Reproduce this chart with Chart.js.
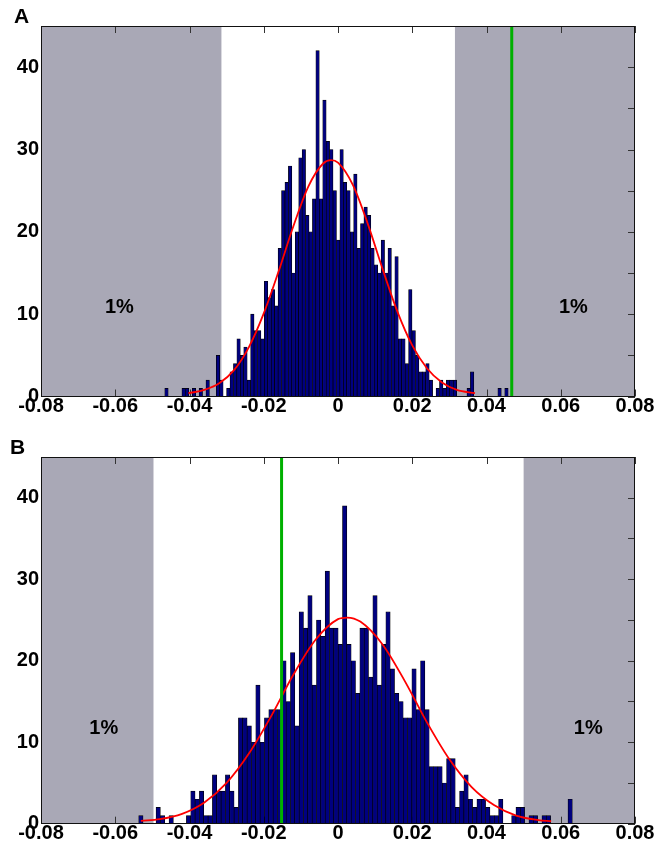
<!DOCTYPE html>
<html>
<head>
<meta charset="utf-8">
<script src="https://cdn.jsdelivr.net/npm/chart.js@4.4.1/dist/chart.umd.min.js"></script>
<style>
  body { margin: 0; background: #fff; }
  #wrap { position: relative; width: 661px; height: 844px; }
  .panel { position: absolute; left: 0; width: 661px; }
  #boxA { top: 0; height: 420px; }
  #boxB { top: 420px; height: 424px; }
  .tag { position: absolute; font: bold 21px "Liberation Sans", Arial, sans-serif; color: #000; }
</style>
</head>
<body>
<div id="wrap">
  <div class="panel" id="boxA"><canvas id="chartA"></canvas></div>
  <div class="panel" id="boxB"><canvas id="chartB"></canvas></div>
  <div class="tag" style="left:14px; top:4px;">A</div>
  <div class="tag" style="left:10px; top:435px;">B</div>
</div>
<script>
// axis ticks
const xTicks = [-0.08, -0.06, -0.04, -0.02, 0, 0.02, 0.04, 0.06, 0.08];
const yTicks = [0, 5, 10, 15, 20, 25, 30, 35, 40];
const yLabelled = [0, 10, 20, 30, 40];

// panel A histogram (100 bins)
const binStartA = -0.0462;
const binWidthA = 0.000925;
const countsA = [
  1, 0, 0, 0, 0, 1, 1, 0, 1, 0,
  1, 0, 2, 0, 0, 5, 2, 0, 1, 3,
  4, 7, 5, 6, 2, 10, 8, 8, 7, 14,
  12, 13, 11, 18, 25, 26, 28, 15, 20, 29,
  30, 22, 20, 24, 42, 24, 36, 31, 30, 25,
  19, 30, 26, 25, 20, 27, 18, 21, 23, 22,
  18, 16, 15, 19, 15, 18, 11, 17, 7, 7,
  4, 13, 8, 5, 3, 3, 4, 2, 0, 1,
  2, 1, 2, 2, 2, 0, 0, 0, 1, 3,
  0, 0, 0, 0, 0, 0, 0, 1, 0, 1
];
const fitXA = [-0.0403, -0.036, -0.032, -0.028, -0.024, -0.020, -0.016, -0.012, -0.008, -0.004, -0.0019,
  0.000, 0.004, 0.008, 0.012, 0.016, 0.020, 0.024, 0.028, 0.032, 0.0369];
const fitYA = [0.4, 0.8, 1.6, 3.2, 6.0, 10.1, 15.2, 20.7, 25.5, 28.3, 28.7,
  28.4, 25.7, 21.0, 15.5, 10.3, 6.2, 3.4, 1.7, 0.8, 0.4];
const shadeA = [[-0.08, -0.0314], [0.0315, 0.08]];
const markerA = 0.0468;

// panel B histogram (100 bins)
const binStartB = -0.0531;
const binWidthB = 0.001168;
const countsB = [
  1, 0, 0, 0, 2, 1, 0, 1, 0, 0,
  0, 1, 4, 3, 4, 1, 1, 6, 4, 4,
  6, 4, 2, 13, 13, 12, 10, 17, 10, 13,
  14, 14, 14, 20, 15, 21, 12, 26, 24, 28,
  17, 25, 23, 31, 24, 24, 22, 39, 22, 20,
  16, 24, 24, 18, 28, 17, 22, 26, 19, 16,
  15, 13, 13, 19, 14, 20, 14, 7, 7, 7,
  5, 8, 8, 2, 4, 6, 3, 2, 3, 3,
  2, 1, 1, 3, 0, 0, 1, 2, 2, 0,
  1, 1, 0, 1, 1, 0, 0, 0, 0, 3
];
const fitXB = [-0.0531, -0.048, -0.042, -0.036, -0.030, -0.024, -0.018, -0.012, -0.006, 0.000, 0.0025,
  0.006, 0.012, 0.018, 0.024, 0.030, 0.036, 0.042, 0.048, 0.054, 0.0574];
const fitYB = [0.35, 0.55, 1.2, 2.6, 5.0, 8.6, 13.2, 18.3, 22.6, 25.1, 25.3,
  24.8, 22.0, 17.5, 12.4, 7.9, 4.5, 2.3, 1.0, 0.45, 0.3];
const shadeB = [[-0.08, -0.0497], [0.0500, 0.08]];
const markerB = -0.0152;

const FONT = '"Liberation Sans", Arial, Helvetica, sans-serif';

const decor = {
  id: 'decor',
  beforeDatasetsDraw(chart, args, opts) {
    const { ctx, chartArea: a, scales: { x, y } } = chart;
    ctx.save();
    ctx.fillStyle = '#a9a8b6';
    opts.shade.forEach(([lo, hi]) => {
      const x0 = x.getPixelForValue(lo);
      const x1 = x.getPixelForValue(hi);
      ctx.fillRect(x0, a.top, x1 - x0, a.bottom - a.top);
    });
    // inward tick marks, matlab style
    ctx.strokeStyle = '#333';
    ctx.lineWidth = 1;
    ctx.beginPath();
    x.ticks.forEach(t => {
      const px = Math.round(x.getPixelForValue(t.value)) + 0.5;
      ctx.moveTo(px, a.top); ctx.lineTo(px, a.top + 7);
      ctx.moveTo(px, a.bottom); ctx.lineTo(px, a.bottom - 7);
    });
    y.ticks.forEach(t => {
      const py = Math.round(y.getPixelForValue(t.value)) + 0.5;
      ctx.moveTo(a.right, py); ctx.lineTo(a.right - 7, py);
    });
    ctx.stroke();
    ctx.fillStyle = '#000';
    ctx.font = 'bold 20px ' + FONT;
    ctx.textAlign = 'center';
    ctx.textBaseline = 'middle';
    opts.labels.forEach(([vx, vy]) => {
      ctx.fillText('1%', x.getPixelForValue(vx), y.getPixelForValue(vy));
    });
    ctx.restore();
  },
  afterDatasetsDraw(chart) {
    const { ctx, chartArea: a } = chart;
    ctx.save();
    ctx.strokeStyle = '#111';
    ctx.lineWidth = 1;
    ctx.strokeRect(Math.round(a.left) + 0.5, Math.round(a.top) + 0.5,
      Math.round(a.right - a.left) - 1, Math.round(a.bottom - a.top) - 1);
    ctx.restore();
  }
};

function makeChart(id, start, width, counts, fitX, fitY, shade, marker, pctLabels, padTop, xAxisH) {
  const bars = counts.map((c, i) => ({ x: start + i * width, y: c }));
  const fit = fitX.map((v, i) => ({ x: v, y: fitY[i] }));
  const ctx = document.getElementById(id).getContext('2d');
  return new Chart(ctx, {
    type: 'bar',
    data: {
      datasets: [
        {
          type: 'line',
          data: [{ x: marker, y: 0 }, { x: marker, y: 45 }],
          borderColor: '#00b000',
          borderWidth: 3,
          pointRadius: 0,
          order: 1
        },
        {
          type: 'line',
          data: fit,
          borderColor: '#ff0000',
          borderWidth: 1.8,
          pointRadius: 0,
          cubicInterpolationMode: 'monotone',
          order: 2
        },
        {
          type: 'bar',
          data: bars,
          backgroundColor: '#000080',
          borderColor: '#000000',
          borderWidth: 0.7,
          barPercentage: 1,
          categoryPercentage: 1,
          order: 3
        }
      ]
    },
    options: {
      responsive: true,
      maintainAspectRatio: false,
      animation: false,
      layout: { padding: { top: padTop, right: 26, bottom: 0, left: 0 } },
      plugins: {
        legend: { display: false },
        tooltip: { enabled: false },
        decor: { shade: shade, labels: pctLabels }
      },
      scales: {
        x: {
          type: 'linear',
          min: -0.08,
          max: 0.08,
          offset: false,
          grid: { display: false, drawTicks: false },
          border: { display: false },
          afterBuildTicks: axis => { axis.ticks = xTicks.map(v => ({ value: v })); },
          afterFit: axis => { axis.height = xAxisH; },
          ticks: {
            autoSkip: false,
            maxRotation: 0,
            padding: 0,
            color: '#000',
            font: { family: FONT, size: 20, weight: 'bold', lineHeight: 1 },
            callback: v => String(Math.round(v * 100) / 100)
          }
        },
        y: {
          min: 0,
          max: 45,
          grid: { display: false, drawTicks: false },
          border: { display: false },
          afterBuildTicks: axis => { axis.ticks = yTicks.map(v => ({ value: v })); },
          afterFit: axis => { axis.width = 41; },
          ticks: {
            padding: 2,
            color: '#000',
            font: { family: FONT, size: 20, weight: 'bold' },
            callback: v => (yLabelled.includes(v) ? String(v) : '')
          }
        }
      }
    },
    plugins: [decor]
  });
}

makeChart('chartA', binStartA, binWidthA, countsA, fitXA, fitYA, shadeA, markerA,
  [[-0.0589, 10.8], [0.0634, 10.8]], 26, 23.5);
makeChart('chartB', binStartB, binWidthB, countsB, fitXB, fitYB, shadeB, markerB,
  [[-0.0631, 11.7], [0.0674, 11.7]], 37, 20.3);
</script>
</body>
</html>
